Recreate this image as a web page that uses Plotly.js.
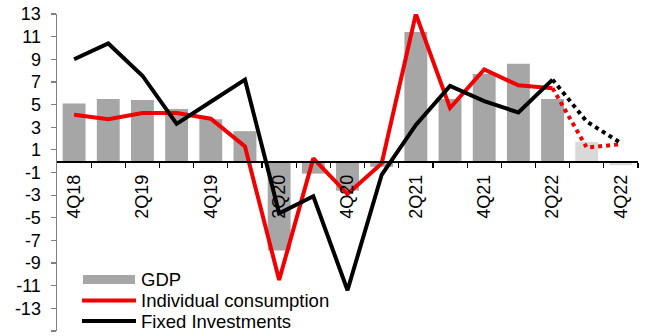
<!DOCTYPE html>
<html><head><meta charset="utf-8">
<script src="https://cdn.plot.ly/plotly-3.0.1.min.js"></script>
<style>html,body{margin:0;padding:0;background:#fff}#chart{width:646px;height:336px}</style>
</head><body><div id="chart"></div>
<script>
const quarters = ['4Q18','1Q19','2Q19','3Q19','4Q19','1Q20','2Q20','3Q20','4Q20','1Q21','2Q21','3Q21','4Q21','1Q22','2Q22','3Q22','4Q22'];
const gdp = [5.1,5.5,5.4,4.6,3.7,2.65,-7.9,-1.1,-2.6,-0.5,11.4,5.5,7.7,8.6,5.5,1.7,-0.35];
const consumption = [4.1,3.7,4.25,4.25,3.75,1.3,-10.5,0.25,-2.9,-0.2,13.0,4.7,8.1,6.7,6.45,1.2,1.5];
const investment = [9.0,10.4,7.55,3.3,5.25,7.2,-4.6,-3.1,-11.4,-1.2,3.2,6.65,5.3,4.3,7.2,3.5,1.6];
const lastActual = '2Q22';
const labeledQuarters = ['4Q18','2Q19','4Q19','2Q20','4Q20','2Q21','4Q21','2Q22','4Q22'];
const yTicks = [13,11,9,7,5,3,1,-1,-3,-5,-7,-9,-11,-13,-15];
const legendNames = ['GDP','Individual consumption','Fixed Investments'];

const idx = quarters.map((_, i) => i);
const la = quarters.indexOf(lastActual);
const solid = arr => arr.map((v, i) => i <= la ? v : null);
const dotted = arr => arr.map((v, i) => i >= la ? v : null);
const barColors = idx.map(i => i > la ? '#d9d9d9' : '#a6a6a6');
const RED = '#f00000', BLACK = '#000000';
const dotDash = '4px,4px';

const traces = [
  {type:'bar', x:idx, y:gdp, marker:{color:barColors, line:{width:0}}, width:0.67, name:legendNames[0], hoverinfo:'skip'},
  {type:'scatter', mode:'lines', x:idx, y:solid(consumption), line:{color:RED, width:4}, name:legendNames[1]},
  {type:'scatter', mode:'lines', x:idx, y:solid(investment), line:{color:BLACK, width:4}, name:legendNames[2]},
  {type:'scatter', mode:'lines', x:idx, y:dotted(consumption), line:{color:RED, width:4, dash:dotDash}},
  {type:'scatter', mode:'lines', x:idx, y:dotted(investment), line:{color:BLACK, width:4, dash:dotDash}},
  {type:'scatter', mode:'markers', x:[idx[0]], y:[0], xaxis:'x2', marker:{opacity:0}, hoverinfo:'skip'}
];

const W = 646, H = 336, L = 57, R = 8, T = 14, B = 5;
const pw = W - L - R, ph = H - T - B;
const px = x => (x - L) / pw;
const py = y => (H - B - y) / ph;
const font = 'Arial, "Liberation Sans", sans-serif';

const shapes = [
  {type:'rect', xref:'paper', yref:'paper', x0:px(83), x1:px(135), y0:py(284), y1:py(275), fillcolor:'#a6a6a6', line:{width:0}},
  {type:'line', xref:'paper', yref:'paper', x0:px(82), x1:px(136), y0:py(300.5), y1:py(300.5), line:{color:RED, width:4}},
  {type:'line', xref:'paper', yref:'paper', x0:px(82), x1:px(136), y0:py(321), y1:py(321), line:{color:BLACK, width:4}}
];
const annotations = legendNames.map((n, i) => ({
  xref:'paper', yref:'paper', x:px(139), y:py([279.5, 300.5, 321][i]), xanchor:'left', yanchor:'middle',
  text:n, showarrow:false, font:{family:font, size:18.5, color:'#000'}
}));

const zeroPos = 15/28;
const layout = {
  width:W, height:H, margin:{l:L, r:R, t:T, b:B},
  paper_bgcolor:'#fff', plot_bgcolor:'#fff',
  showlegend:false, font:{family:font, color:'#000'},
  xaxis:{range:[-0.5, 16.5], anchor:'free', position:zeroPos,
    tickmode:'array', tickvals:idx.map(i => i + 0.5), ticktext:idx.map(() => ''),
    ticks:'outside', ticklen:5, tickcolor:'#000', tickwidth:1.2,
    showline:true, linecolor:'#000', linewidth:1.5,
    showgrid:false, zeroline:false, showticklabels:false},
  xaxis2:{range:[-0.5, 16.5], overlaying:'x', anchor:'free', position:zeroPos, side:'bottom',
    tickmode:'array', tickvals:labeledQuarters.map(q => quarters.indexOf(q)), ticktext:labeledQuarters,
    tickangle:-90, ticks:'', showline:false, showgrid:false, zeroline:false,
    ticklabelstandoff:9, tickfont:{size:18, color:'#000'}},
  yaxis:{range:[-15, 13], tickmode:'array', tickvals:yTicks, ticktext:yTicks.map(String),
    ticks:'outside', ticklen:5, tickcolor:'#808080', tickwidth:1.2,
    showline:true, linecolor:'#808080', linewidth:1.5, showgrid:false, zeroline:false,
    ticklabelstandoff:6, tickfont:{size:18, color:'#000'}},
  shapes:shapes, annotations:annotations
};

Plotly.newPlot('chart', traces, layout, {staticPlot:true, displayModeBar:false});
</script>
</body></html>
